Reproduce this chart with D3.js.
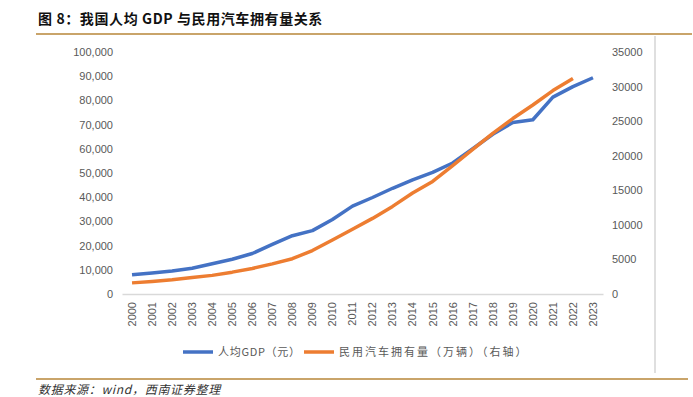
<!DOCTYPE html>
<html>
<head>
<meta charset="utf-8">
<script src="https://cdn.jsdelivr.net/npm/d3@7"></script>
<style>
  body { margin: 0; background: #fff; }
  svg { display: block; }
</style>
</head>
<body>
<svg id="chart" width="693" height="397"></svg>
<script>
// years and series
var years = ["2000","2001","2002","2003","2004","2005","2006","2007","2008","2009","2010","2011",
             "2012","2013","2014","2015","2016","2017","2018","2019","2020","2021","2022","2023"];
// per capita GDP (yuan), left axis
var gdpPerCapita = [7942, 8717, 9506, 10666, 12487, 14368, 16738, 20494, 24100, 26180, 30808, 36302,
                    39874, 43684, 47173, 50237, 54139, 60014, 66006, 70892, 72000, 81370, 85698, 89358];
// civil car ownership (10k vehicles), right axis, no 2023 value
var carOwnership = [1609, 1802, 2053, 2383, 2694, 3160, 3697, 4358, 5100, 6281, 7802, 9356,
                    10933, 12670, 14598, 16284, 18575, 20907, 23231, 25376, 27340, 29419, 31184];
var leftTicks = [0,10000,20000,30000,40000,50000,60000,70000,80000,90000,100000];
var rightTicks = [0,5000,10000,15000,20000,25000,30000,35000];
var seriesNames = ["人均GDP（元）", "民用汽车拥有量（万辆）（右轴）"];
var seriesColors = ["#4472C4", "#ED7D31"];

var svg = d3.select("#chart");
var fontCN = "'Noto Sans CJK SC', 'Noto Sans', sans-serif";

// title + rules
svg.append("text")
    .attr("x", 38).attr("y", 24)
    .style("font-family", fontCN).style("font-size", "14px").style("font-weight", "bold")
    .style("letter-spacing", "0.6px")
    .attr("fill", "#111")
    .text("图 8：我国人均 GDP 与民用汽车拥有量关系");

svg.append("line").attr("x1", 36).attr("x2", 692).attr("y1", 34).attr("y2", 34)
    .attr("stroke", "#C9A46A").attr("stroke-width", 2);
svg.append("line").attr("x1", 655).attr("x2", 655).attr("y1", 36).attr("y2", 373)
    .attr("stroke", "#BFBFBF").attr("stroke-width", 1);
svg.append("line").attr("x1", 36).attr("x2", 688).attr("y1", 379).attr("y2", 379)
    .attr("stroke", "#C9A46A").attr("stroke-width", 2);

svg.append("text")
    .attr("x", 38).attr("y", 394)
    .style("font-family", fontCN).style("font-size", "12px").style("font-style", "italic")
    .style("letter-spacing", "0.7px")
    .attr("fill", "#333")
    .text("数据来源：wind，西南证券整理");

// scales
var x = d3.scaleBand().domain(years).range([122, 603]);
var yL = d3.scaleLinear().domain([0, 100000]).range([294, 52]);
var yR = d3.scaleLinear().domain([0, 35000]).range([294, 52]);
var cx = function(d, i) { return x(years[i]) + x.bandwidth() / 2; };

// axes
var axisText = function(g) {
    g.select(".domain").remove();
    g.selectAll(".tick line").remove();
    g.selectAll("text")
        .attr("fill", "#595959")
        .style("font-family", "'Liberation Sans', Arial, sans-serif")
        .style("font-size", "11px");
};

svg.append("g")
    .attr("transform", "translate(122,0)")
    .call(d3.axisLeft(yL).tickValues(leftTicks).tickFormat(d3.format(",")).tickSize(0).tickPadding(9))
    .call(axisText);

svg.append("g")
    .attr("transform", "translate(603,0)")
    .call(d3.axisRight(yR).tickValues(rightTicks).tickFormat(d3.format("d")).tickSize(0).tickPadding(9))
    .call(axisText);

var xg = svg.append("g")
    .attr("transform", "translate(0,294)")
    .call(d3.axisBottom(x).tickSize(0).tickPadding(0));
xg.select(".domain").attr("stroke", "#D9D9D9").attr("stroke-width", 1.5);
xg.selectAll("text")
    .attr("fill", "#595959")
    .style("font-family", "'Liberation Sans', Arial, sans-serif")
    .style("font-size", "11px")
    .attr("text-anchor", "end")
    .attr("dy", "0.35em")
    .attr("transform", "translate(0,8) rotate(-90)");

// lines
var lineL = d3.line().x(cx).y(function(d) { return yL(d); });
var lineR = d3.line().x(cx).y(function(d) { return yR(d); });

svg.append("path").datum(gdpPerCapita)
    .attr("d", lineL).attr("fill", "none")
    .attr("stroke", seriesColors[0]).attr("stroke-width", 3.5).attr("stroke-linejoin", "round");

svg.append("path").datum(carOwnership)
    .attr("d", lineR).attr("fill", "none")
    .attr("stroke", seriesColors[1]).attr("stroke-width", 3.5).attr("stroke-linejoin", "round");

// legend
var legendX = [183, 304];
var legend = svg.selectAll("g.legend").data(seriesNames).enter().append("g")
    .attr("class", "legend")
    .attr("transform", function(d, i) { return "translate(" + legendX[i] + ",352)"; });
legend.append("line").attr("x1", 0).attr("x2", 30).attr("y1", 0).attr("y2", 0)
    .attr("stroke", function(d, i) { return seriesColors[i]; }).attr("stroke-width", 3.5);
legend.append("text")
    .attr("x", 35).attr("y", 4)
    .style("font-family", fontCN).style("font-size", "11px")
    .style("letter-spacing", function(d, i) { return i === 0 ? "0.7px" : "2px"; })
    .attr("fill", "#595959")
    .text(function(d) { return d; });
</script>
</body>
</html>
